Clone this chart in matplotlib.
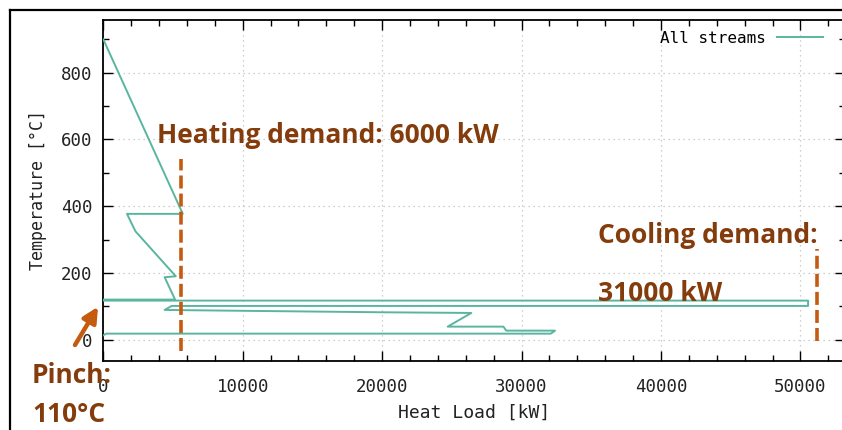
import numpy as np
import matplotlib
matplotlib.use("Agg")
import matplotlib.pyplot as plt
from matplotlib.lines import Line2D
from matplotlib.ticker import MultipleLocator

# ---- data ----
upper_load = [0, 5700, 1700, 2300, 5200, 4400, 5150, 0]
upper_temp = [900, 377, 377, 325, 190, 187, 120, 120]
lower_load = [0, 50550, 50550, 4900, 4400, 11000, 20100, 26400, 24700, 28700, 28900, 32400, 32100, 200, 0]
lower_temp = [117, 117, 101, 101, 89, 86, 82, 80, 39, 39, 27, 27, 18, 18, 13]
heating_demand_x = 5600
heating_span = [-35, 540]
cooling_demand_x = 51200
cooling_span = [-5, 272]
x_ticks = [0, 10000, 20000, 30000, 40000, 50000]
y_ticks = [0, 200, 400, 600, 800]

W, H = 842, 430
fig = plt.figure(figsize=(W / 100, H / 100), dpi=100)
fig.patch.set_facecolor("white")

# axes placement in pixels
L, R, T, B = 103.3, 845.0, 20.0, 361.0
ax = fig.add_axes([L / W, 1 - B / H, (R - L) / W, (B - T) / H])

teal = "#5ab5a0"
orange = "#C55A11"
brown = "#843C0C"
mono = "DejaVu Sans Mono"

x_all = upper_load + [np.nan] + lower_load
t_all = upper_temp + [np.nan] + lower_temp
ax.plot(x_all, t_all, color=teal, lw=1.4, label="All streams", zorder=3)

ax.plot([heating_demand_x] * 2, heating_span, color=orange, lw=2.6,
        dashes=(3.6, 1.4), zorder=4)
ax.plot([cooling_demand_x] * 2, cooling_span, color=orange, lw=2.6,
        dashes=(3.6, 1.4), zorder=4)

ax.set_xlim(0, 53200)
ax.set_ylim(-64, 958)
ax.set_xticks(x_ticks)
ax.set_yticks(y_ticks)
ax.xaxis.set_minor_locator(MultipleLocator(2000))
ax.yaxis.set_minor_locator(MultipleLocator(100))
ax.tick_params(which="both", direction="in", top=True, right=True, color="black")
ax.tick_params(which="major", length=7, width=1.0)
ax.tick_params(which="minor", length=4, width=1.0)
ax.tick_params(axis="x", which="major", pad=12)
ax.tick_params(axis="y", which="major", pad=8)
for lab in ax.get_xticklabels() + ax.get_yticklabels():
    lab.set_fontfamily(mono)
    lab.set_fontsize(12.5)
    lab.set_color("#222222")
ax.grid(True, which="major", color="#c0c0c0", linestyle=(0, (1, 3)), lw=0.9)
for s in ax.spines.values():
    s.set_linewidth(1.3)
    s.set_color("black")

ax.set_xlabel("Heat Load [kW]", fontfamily=mono, fontsize=13, color="#222222", labelpad=6)
ax.set_ylabel("Temperature [°C]", fontfamily=mono, fontsize=12, color="#222222", labelpad=10)

leg = ax.legend(loc="upper right", bbox_to_anchor=(823 / W, 1 - 31 / H),
                bbox_transform=fig.transFigure, frameon=False, markerfirst=False,
                handlelength=2.9, handletextpad=0.7, borderpad=0, borderaxespad=0,
                prop={"family": mono, "size": 11.5})

# annotations
tkw = dict(fontfamily="Open Sans", fontweight="bold", color=brown, fontsize=19, va="baseline")
ax.text(3850, 590, "Heating demand: 6000 kW", **tkw)
ax.text(35500, 290, "Cooling demand:", **tkw)
ax.text(35500, 115, "31000 kW", **tkw, zorder=5)
fig.text(32 / W, 1 - 383 / H, "Pinch:", **tkw)
fig.text(32 / W, 1 - 421.7 / H, "110°C", **tkw)

ax.annotate("", xy=(98 / W, 1 - 306.7 / H), xytext=(75 / W, 1 - 345 / H),
            xycoords="figure fraction", textcoords="figure fraction",
            arrowprops=dict(arrowstyle="-|>,head_length=0.9,head_width=0.45",
                            color=orange, lw=3.2, shrinkA=0, shrinkB=0),
            annotation_clip=False)

# outer frame of the screenshot
fig.add_artist(Line2D([10 / W, 1.0], [1 - 10 / H, 1 - 10 / H], color="black", lw=1.6,
                      transform=fig.transFigure))
fig.add_artist(Line2D([10 / W, 10 / W], [0, 1 - 10 / H], color="black", lw=1.6,
                      transform=fig.transFigure))

fig.savefig("out.png", dpi=100)
